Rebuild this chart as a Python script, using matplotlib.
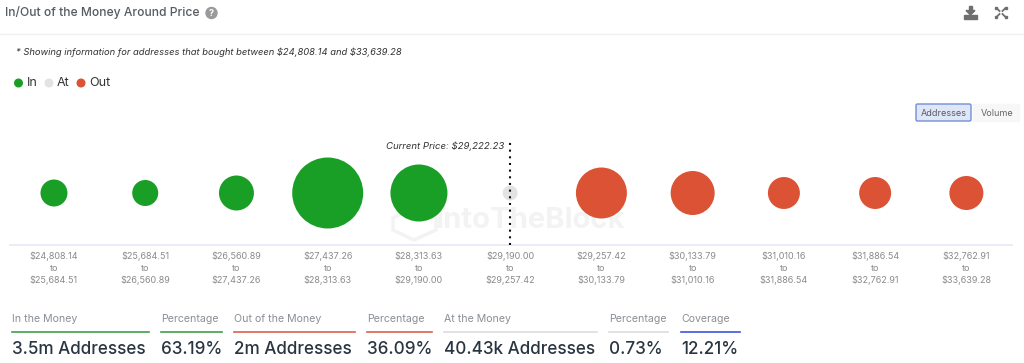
import matplotlib
matplotlib.use("Agg")
import matplotlib.pyplot as plt
from matplotlib.lines import Line2D
from matplotlib.patches import Circle, FancyBboxPatch, Polygon, Rectangle

W, H = 1024, 363
plt.rcParams["font.family"] = ["Inter", "DejaVu Sans"]
plt.rcParams["text.parse_math"] = False

range_lo = ["$24,808.14", "$25,684.51", "$26,560.89", "$27,437.26", "$28,313.63", "$29,190.00",
            "$29,257.42", "$30,133.79", "$31,010.16", "$31,886.54", "$32,762.91"]
range_hi = ["$25,684.51", "$26,560.89", "$27,437.26", "$28,313.63", "$29,190.00", "$29,257.42",
            "$30,133.79", "$31,010.16", "$31,886.54", "$32,762.91", "$33,639.28"]
addresses_k = [257, 239, 432, 1779, 1147, 40.43, 918, 683, 361, 361, 408]
status = ["in", "in", "in", "in", "in", "at", "out", "out", "out", "out", "out"]
current_price_bin = 5
current_price_label = "Current Price: $29,222.23"

summary_heads = ["In the Money", "Percentage", "Out of the Money", "Percentage",
                 "At the Money", "Percentage", "Coverage"]
summary_values = ["3.5m Addresses", "63.19%", "2m Addresses", "36.09%",
                  "40.43k Addresses", "0.73%", "12.21%"]

COLORS = {"in": "#1a9f26", "at": "#e3e3e3", "out": "#db5235"}
SUMMARY_X = [(12, 149), (161, 222), (234, 355), (367, 432), (444, 597), (609, 668), (681, 740)]
SUMMARY_C = ["#3f9f4a", "#3f9f4a", "#d9604f", "#d9604f", "#dddddd", "#dddddd", "#3d55e0"]


def fx(px):
    return px / W


def fy(py):
    return 1 - py / H


def ftext(x, y, s, **kw):
    kw.setdefault("va", "center")
    fig.text(fx(x), fy(y), s, **kw)


def hline(x0, x1, y, color, lw=1.0):
    fig.add_artist(Line2D([fx(x0), fx(x1)], [fy(y), fy(y)], color=color, lw=lw))


fig = plt.figure(figsize=(W / 100, H / 100), dpi=100, facecolor="white")

# header
ftext(5, 12.5, "In/Out of the Money Around Price", fontsize=8.7, color="#555b60", fontweight="medium")
hline(0, W, 34, "#f0f0f0")
ftext(16, 52.5, "* Showing information for addresses that bought between $24,808.14 and $33,639.28",
      fontsize=6.75, style="italic", color="#333333")

# pixel-space layer for the page furniture (icons, legend, toggle)
overlay = fig.add_axes([0, 0, 1, 1], zorder=5)
overlay.set_xlim(0, W); overlay.set_ylim(H, 0); overlay.axis("off"); overlay.patch.set_alpha(0)
overlay.add_patch(Circle((211.5, 13), 5.5, color="#9a9a9a"))
overlay.text(211.5, 13.3, "?", color="white", fontsize=6.5, fontweight="bold", ha="center", va="center")

overlay.add_patch(Rectangle((964, 15), 13, 3.5, color="#6f6f6f"))
overlay.add_patch(Rectangle((969, 6), 3, 6, color="#6f6f6f"))
overlay.add_patch(Polygon([(966, 10.5), (975, 10.5), (970.5, 15)], color="#6f6f6f"))
for dx, dy in [(-1, -1), (1, -1), (-1, 1), (1, 1)]:
    overlay.plot([1001 + 1.5 * dx, 1001 + 4 * dx], [12.5 + 1.5 * dy, 12.5 + 4 * dy], color="#6f6f6f", lw=1.3)
    overlay.plot([1001 + 4.8 * dx], [12.5 + 4.8 * dy], marker="s", ms=2, color="#6f6f6f")

# legend
for cx, tx, key, label in [(18.5, 26.5, "in", "In"), (49, 57, "at", "At"), (81, 89, "out", "Out")]:
    overlay.add_patch(Circle((cx, 83), 3.8, color=COLORS[key]))
    overlay.text(tx, 83, label, fontsize=9, color="#333333", va="center")

# Addresses / Volume toggle
overlay.add_patch(FancyBboxPatch((916, 104), 55, 17, boxstyle="round,pad=0,rounding_size=1.5",
                                 fc="#dfe6f5", ec="#6f8fd8", lw=1))
overlay.add_patch(Rectangle((973, 104), 46, 17, color="#f7f7f7"))
overlay.text(943.5, 113, "Addresses", fontsize=6.5, color="#555b66", ha="center", va="center")
overlay.text(997, 113, "Volume", fontsize=6.5, color="#666666", ha="center", va="center")

# bubble chart
ax = fig.add_axes([fx(10), fy(245), fx(1002), fy(141) - fy(245)])
x = list(range(len(addresses_k)))
ax.set_xlim(-0.482, 10.5)
ax.set_ylim(-1, 1)
px_area = [max(v * 2.833, 15 ** 2) for v in addresses_k]
sizes = [a * 0.72 ** 2 for a in px_area]
ax.scatter(x, [0.0] * len(x), s=sizes, c=[COLORS[k] for k in status], linewidths=0, zorder=3)
ax.axvline(current_price_bin, color="#111111", lw=1.5, ls=(0, (1, 2.2)), zorder=4)
ax.text(current_price_bin - 0.06, 0.9, current_price_label, fontsize=6.9, style="italic",
        color="#333333", ha="right", va="center")
ax.text(current_price_bin + 0.22, -0.52, "IntoTheBlock", fontsize=21, fontweight="bold",
        color="#f3f3f3", ha="center", va="center", zorder=1)
# watermark logo, behind the bubbles
logo = [(393, 218), (414, 207), (436, 218), (436, 230), (414, 240), (393, 230)]
ax.add_patch(Polygon(logo, closed=True, fill=False, ec="#f3f3f3", lw=2.5,
                     transform=overlay.transData, zorder=1, clip_on=False))
ax.set_xticks(x)
ax.set_xticklabels([f"{a}\nto\n{b}" for a, b in zip(range_lo, range_hi)], fontsize=6.5,
                   color="#8a8a8a", linespacing=1.32)
ax.tick_params(axis="x", length=0, pad=5)
ax.set_yticks([])
for name, sp in ax.spines.items():
    sp.set_visible(name == "bottom")
ax.spines["bottom"].set_color("#e6e8f5")
ax.spines["bottom"].set_linewidth(1.2)

# summary strip
for (x0, x1), c, head, val in zip(SUMMARY_X, SUMMARY_C, summary_heads, summary_values):
    ftext(x0, 319, head, fontsize=7.6, color="#8a8f94")
    hline(x0, x1, 331.5, c, lw=1.2)
    ftext(x0, 350, val, fontsize=12.3, color="#2a3542", fontweight="medium")

fig.savefig("out.png", dpi=100)
